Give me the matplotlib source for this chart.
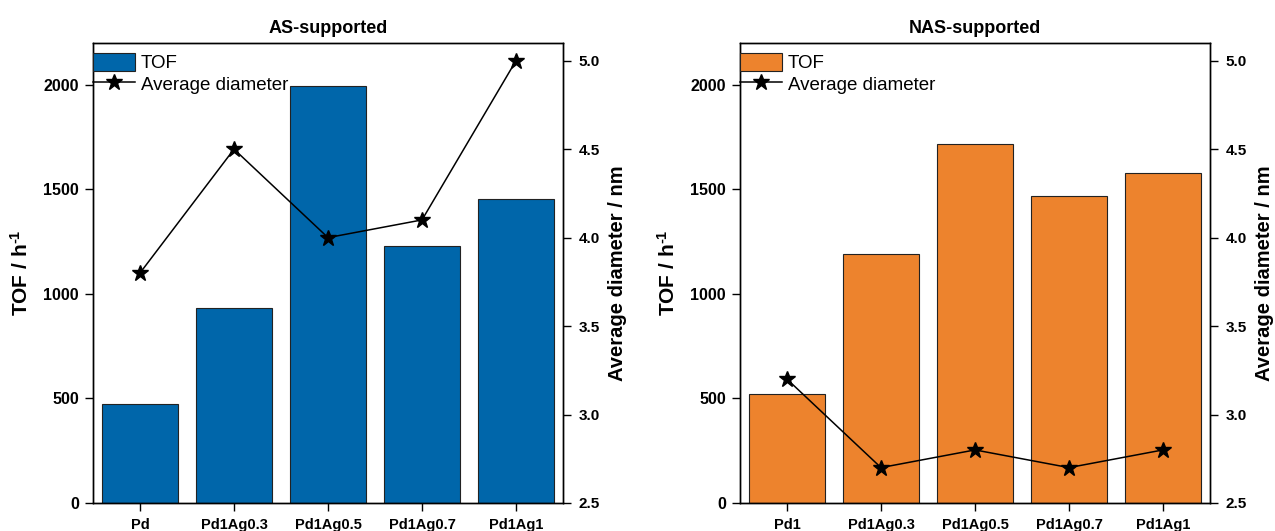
import matplotlib
matplotlib.use("Agg")
import matplotlib.pyplot as plt
import numpy as np

plt.rcParams['font.family'] = ['Liberation Sans', 'DejaVu Sans']
plt.rcParams['mathtext.fontset'] = 'custom'
plt.rcParams['mathtext.rm'] = 'Liberation Sans:bold'
plt.rcParams['mathtext.bf'] = 'Liberation Sans:bold'
plt.rcParams['mathtext.it'] = 'Liberation Sans:bold'

# Data
as_categories = ["Pd", "Pd1Ag0.3", "Pd1Ag0.5", "Pd1Ag0.7", "Pd1Ag1"]
as_tof = [472, 935, 1995, 1228, 1454]
as_diam = [3.8, 4.5, 4.0, 4.1, 5.0]

nas_categories = ["Pd1", "Pd1Ag0.3", "Pd1Ag0.5", "Pd1Ag0.7", "Pd1Ag1"]
nas_tof = [519, 1193, 1717, 1468, 1578]
nas_diam = [3.2, 2.7, 2.8, 2.7, 2.8]

titles = ["AS-supported", "NAS-supported"]
colors = ["#0066AA", "#ED832D"]

fig = plt.figure(figsize=(12.75, 5.31), dpi=100)
W, H = 1275, 531
lefts = [93, 740]
panels = [(as_categories, as_tof, as_diam), (nas_categories, nas_tof, nas_diam)]

for i, (cats, tof, diam) in enumerate(panels):
    ax = fig.add_axes([lefts[i] / W, (H - 503) / H, 470 / W, 460 / H])
    x = np.arange(len(cats))
    bars = ax.bar(x, tof, width=0.8, color=colors[i], edgecolor='#222222',
                  linewidth=0.8, label='TOF', zorder=2)
    ax.set_xlim(-0.5, len(cats) - 0.5)
    ax.set_ylim(0, 2200)
    ax.set_yticks([0, 500, 1000, 1500, 2000])
    ax.set_xticks(x)
    ax.set_xticklabels(cats)
    ax.tick_params(axis='y', direction='out', length=6, width=1, pad=4,
                   labelsize=11.5, right=False)
    ax.tick_params(axis='x', direction='out', length=6, width=1, pad=5,
                   labelsize=10.5, top=False)
    for lab in ax.get_xticklabels() + ax.get_yticklabels():
        lab.set_fontweight('bold')
    for s in ax.spines.values():
        s.set_linewidth(1.0)
    ax.set_ylabel("TOF / h$^{\\text{-1}}$", fontsize=15, fontweight='bold', labelpad=8)
    ax.set_title(titles[i], fontsize=13, fontweight='bold', pad=7)

    ax2 = ax.twinx()
    line, = ax2.plot(x, diam, color='black', marker='*', markersize=12,
                     linewidth=1.1, label='Average diameter', zorder=3)
    ax2.set_ylim(2.5, 5.1)
    ax2.set_yticks([2.5, 3.0, 3.5, 4.0, 4.5, 5.0])
    ax2.set_yticklabels([f"{v:.1f}" for v in [2.5, 3.0, 3.5, 4.0, 4.5, 5.0]])
    ax2.tick_params(axis='y', direction='out', length=6, width=1, pad=5,
                    labelsize=11)
    for lab in ax2.get_yticklabels():
        lab.set_fontweight('bold')
    for s in ax2.spines.values():
        s.set_linewidth(1.0)
    ax2.set_ylabel("Average diameter / nm", fontsize=14.5, fontweight='bold', labelpad=6)

    ax2.legend([bars, line], ['TOF', 'Average diameter'], loc='upper left',
               bbox_to_anchor=(0, 0.978), borderaxespad=0, borderpad=0,
               frameon=False, fontsize=13.5, handlelength=2.25, handleheight=1.1,
               handletextpad=0.3, labelspacing=0.1)

fig.savefig("out.png", dpi=100)
